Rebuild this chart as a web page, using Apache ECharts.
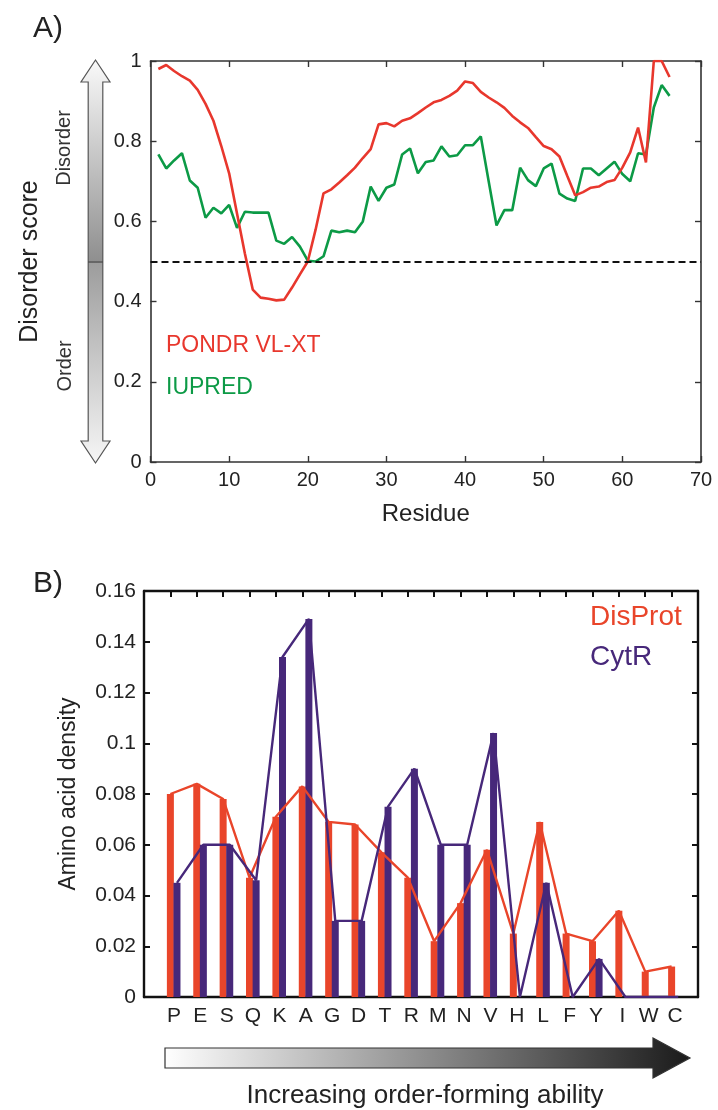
<!DOCTYPE html>
<html>
<head>
<meta charset="utf-8">
<script src="https://cdn.jsdelivr.net/npm/echarts@6/dist/echarts.min.js"></script>
<style>
html,body{margin:0;padding:0;background:#fff;}
#c{width:718px;height:1110px;}
</style>
</head>
<body>
<div id="c"></div>
<script>
// ---------- Panel A data (residues 1..66) ----------
const pondrVLXT = [0.98,0.99,0.975,0.962,0.951,0.928,0.893,0.851,0.788,0.72,
  0.62,0.52,0.43,0.41,0.407,0.403,0.405,0.435,0.468,0.50,
  0.58,0.67,0.68,0.697,0.715,0.734,0.758,0.78,0.842,0.845,
  0.837,0.851,0.857,0.87,0.884,0.897,0.903,0.913,0.926,0.949,
  0.945,0.923,0.909,0.897,0.883,0.863,0.847,0.833,0.81,0.788,
  0.78,0.762,0.713,0.665,0.673,0.684,0.687,0.698,0.703,0.734,
  0.772,0.834,0.747,1.0,1.0,0.96];
const iupred = [0.767,0.732,0.752,0.77,0.702,0.684,0.609,0.634,0.62,0.641,
  0.584,0.624,0.622,0.622,0.622,0.552,0.544,0.561,0.537,0.502,
  0.50,0.513,0.577,0.573,0.577,0.573,0.60,0.687,0.651,0.684,
  0.692,0.767,0.782,0.72,0.748,0.752,0.787,0.762,0.765,0.79,
  0.79,0.812,0.70,0.59,0.628,0.628,0.734,0.703,0.688,0.732,
  0.744,0.669,0.657,0.651,0.732,0.732,0.715,0.732,0.749,0.718,
  0.70,0.77,0.767,0.884,0.94,0.913];
const disorderThreshold = 0.5;

// ---------- Panel B data ----------
const aminoAcids = ['P','E','S','Q','K','A','G','D','T','R','M','N','V','H','L','F','Y','I','W','C'];
const disProt = [0.080,0.084,0.078,0.047,0.071,0.083,0.069,0.068,0.057,0.047,
                 0.022,0.037,0.058,0.025,0.069,0.025,0.022,0.034,0.010,0.012];
const cytR    = [0.045,0.060,0.060,0.046,0.134,0.149,0.030,0.030,0.075,0.090,
                 0.060,0.060,0.104,0,0.045,0,0.015,0,0,0];

const FONT = 'Liberation Sans, Arial, Helvetica, sans-serif';
const RED_A = '#e8372d', GREEN_A = '#0c9a46';
const RED_B = '#e9452a', PURPLE_B = '#47287a';

const resPairs = arr => arr.map((v,i)=>[i+1, v]);
const aaPairs = arr => arr.map((v,i)=>[i+1, v]);

const chart = echarts.init(document.getElementById('c'), null, {renderer:'canvas'});

const frameA = {lineStyle:{color:'#333', width:1.6}};
const frameB = {lineStyle:{color:'#111', width:2.4}};

const option = {
  backgroundColor:'#fff',
  animation:false,
  textStyle:{fontFamily:FONT},
  grid:[
    {left:150.5, top:61, width:550.5, height:401},
    {left:144, top:591, width:554, height:406}
  ],
  xAxis:[
    {gridIndex:0, type:'value', min:0, max:70, interval:10, position:'bottom',
     axisLine:{show:true, onZero:false, ...frameA}, axisTick:{inside:true, length:6, lineStyle:{color:'#333',width:1.4}},
     axisLabel:{fontSize:20, color:'#222', margin:8, fontFamily:FONT},
     splitLine:{show:false},
     name:'Residue', nameLocation:'middle', nameGap:40, nameTextStyle:{fontSize:24, color:'#222', fontFamily:FONT}},
    {gridIndex:0, type:'value', min:0, max:70, interval:10, position:'top',
     axisLine:{show:true, onZero:false, ...frameA}, axisTick:{inside:true, length:6, lineStyle:{color:'#333',width:1.4}},
     axisLabel:{show:false}, splitLine:{show:false}},
    {gridIndex:1, type:'value', min:0, max:21, interval:1, position:'bottom',
     axisLine:{show:true, onZero:false, ...frameB}, axisTick:{inside:true, length:6, lineStyle:{color:'#111',width:2}},
     axisLabel:{fontSize:21, color:'#222', margin:9, fontFamily:FONT, padding:[0,0,0,7],
       formatter:v => aminoAcids[Math.round(v)-1] || ''},
     splitLine:{show:false}},
    {gridIndex:1, type:'value', min:0, max:21, interval:1, position:'top',
     axisLine:{show:true, onZero:false, ...frameB}, axisTick:{inside:true, length:6, lineStyle:{color:'#111',width:2}},
     axisLabel:{show:false}, splitLine:{show:false}},
    {gridIndex:1, type:'value', min:-0.25, max:20.75, show:false, splitLine:{show:false}}
  ],
  yAxis:[
    {gridIndex:0, type:'value', min:0, max:1, interval:0.2, position:'left',
     axisLine:{show:true, onZero:false, ...frameA}, axisTick:{show:true, inside:true, length:6, lineStyle:{color:'#333',width:1.4}},
     axisLabel:{fontSize:20, color:'#222', margin:9, fontFamily:FONT},
     splitLine:{show:false},
     name:'Disorder score', nameLocation:'middle', nameRotate:90, nameGap:108,
     nameTextStyle:{fontSize:25, color:'#222', fontFamily:FONT}},
    {gridIndex:0, type:'value', min:0, max:1, interval:0.2, position:'right',
     axisLine:{show:true, onZero:false, ...frameA}, axisTick:{show:true, inside:true, length:6, lineStyle:{color:'#333',width:1.4}},
     axisLabel:{show:false}, splitLine:{show:false}},
    {gridIndex:1, type:'value', min:0, max:0.16, interval:0.02, position:'left',
     axisLine:{show:true, onZero:false, ...frameB}, axisTick:{show:true, inside:true, length:6, lineStyle:{color:'#111',width:2}},
     axisLabel:{fontSize:21, color:'#222', margin:8, fontFamily:FONT},
     splitLine:{show:false},
     name:'Amino acid density', nameLocation:'middle', nameRotate:90, nameGap:64,
     nameTextStyle:{fontSize:23, color:'#222', fontFamily:FONT}},
    {gridIndex:1, type:'value', min:0, max:0.16, interval:0.02, position:'right',
     axisLine:{show:true, onZero:false, ...frameB}, axisTick:{show:true, inside:true, length:6, lineStyle:{color:'#111',width:2}},
     axisLabel:{show:false}, splitLine:{show:false}}
  ],
  series:[
    {name:'PONDR VL-XT', type:'line', xAxisIndex:0, yAxisIndex:0, data:resPairs(pondrVLXT),
     showSymbol:false, lineStyle:{color:RED_A, width:2.6}, itemStyle:{color:RED_A}, z:4},
    {name:'IUPRED', type:'line', xAxisIndex:0, yAxisIndex:0, data:resPairs(iupred),
     showSymbol:false, lineStyle:{color:GREEN_A, width:2.6}, itemStyle:{color:GREEN_A}, z:3,
     markLine:{silent:true, symbol:['none','none'], label:{show:false},
       lineStyle:{color:'#111', type:[7,4], width:2},
       data:[{yAxis:disorderThreshold}]}},
    {name:'DisProt bars', type:'bar', xAxisIndex:2, yAxisIndex:2, data:aaPairs(disProt),
     barWidth:7, itemStyle:{color:RED_B}, z:2},
    {name:'CytR bars', type:'bar', xAxisIndex:4, yAxisIndex:2, data:aaPairs(cytR),
     barWidth:7, itemStyle:{color:PURPLE_B}, z:2},
    {name:'DisProt', type:'line', xAxisIndex:2, yAxisIndex:2, data:aaPairs(disProt),
     showSymbol:false, lineStyle:{color:RED_B, width:2.4}, itemStyle:{color:RED_B}, z:3},
    {name:'CytR', type:'line', xAxisIndex:4, yAxisIndex:2, data:aaPairs(cytR),
     showSymbol:false, lineStyle:{color:PURPLE_B, width:2.4}, itemStyle:{color:PURPLE_B}, z:4}
  ],
  graphic:[
    {type:'text', x:33, y:29, style:{text:'A)', font:'30px '+FONT, fill:'#222', textAlign:'left', textVerticalAlign:'middle'}},
    {type:'text', x:33, y:584, style:{text:'B)', font:'30px '+FONT, fill:'#222', textAlign:'left', textVerticalAlign:'middle'}},
    // legend texts panel A
    {type:'text', x:166, y:346, style:{text:'PONDR VL-XT', font:'23px '+FONT, fill:RED_A, textAlign:'left', textVerticalAlign:'middle'}},
    {type:'text', x:166, y:388, style:{text:'IUPRED', font:'23px '+FONT, fill:GREEN_A, textAlign:'left', textVerticalAlign:'middle'}},
    // Disorder / Order double arrow
    {type:'polygon', shape:{points:[[95.5,60],[110,82],[102.8,82],[102.8,441],[110,441],[95.5,463],[81,441],[88.2,441],[88.2,82],[81,82]]},
     style:{fill:{type:'linear', x:0, y:0, x2:0, y2:1, colorStops:[
        {offset:0, color:'#fafafa'},{offset:0.499, color:'#8f8f8f'},{offset:0.5, color:'#9c9c9c'},{offset:1, color:'#f6f6f6'}]},
       stroke:'#555', lineWidth:1.2}},
    {type:'line', shape:{x1:88.2, y1:262, x2:102.8, y2:262}, style:{stroke:'#444', lineWidth:1.2}},
    {type:'text', x:64, y:148, rotation:Math.PI/2, style:{text:'Disorder', font:'20px '+FONT, fill:'#333', textAlign:'center', textVerticalAlign:'middle'}},
    {type:'text', x:65, y:366, rotation:Math.PI/2, style:{text:'Order', font:'20px '+FONT, fill:'#333', textAlign:'center', textVerticalAlign:'middle'}},
    // legend texts panel B
    {type:'text', x:590, y:617, style:{text:'DisProt', font:'28px '+FONT, fill:RED_B, textAlign:'left', textVerticalAlign:'middle'}},
    {type:'text', x:590, y:657, style:{text:'CytR', font:'28px '+FONT, fill:PURPLE_B, textAlign:'left', textVerticalAlign:'middle'}},
    // order-forming arrow
    {type:'polygon', shape:{points:[[165,1048],[653,1048],[653,1038],[690,1058],[653,1078],[653,1068],[165,1068]]},
     style:{fill:{type:'linear', x:0, y:0, x2:1, y2:0, colorStops:[
        {offset:0, color:'#ffffff'},{offset:1, color:'#1a1a1a'}]},
       stroke:'#333', lineWidth:1.2}},
    {type:'text', x:425, y:1096, style:{text:'Increasing order-forming ability', font:'26px '+FONT, fill:'#222', textAlign:'center', textVerticalAlign:'middle'}}
  ]
};
chart.setOption(option);
</script>
</body>
</html>
